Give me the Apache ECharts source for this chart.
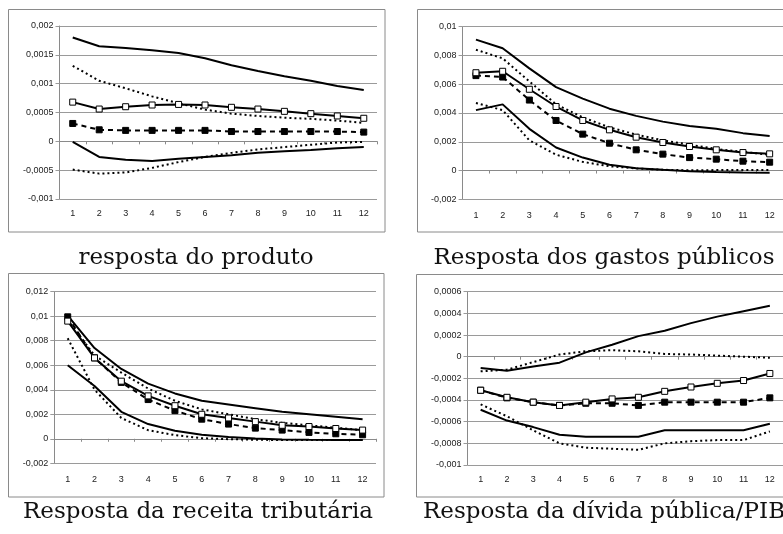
<!DOCTYPE html>
<html><head><meta charset="utf-8">
<script src="https://cdn.jsdelivr.net/npm/echarts@6/dist/echarts.min.js"></script>
<style>html,body{margin:0;padding:0;background:#fff}#c{width:783px;height:534px}</style>
</head><body><div id="c"></div><script>
const categories = ['1','2','3','4','5','6','7','8','9','10','11','12'];

// Panel 1: resposta do produto
const p1Title = 'resposta do produto';
const p1Axis = [-0.001, 0.002, 0.0005];
const p1Upper = [0.0018, 0.00165, 0.00162, 0.00158, 0.00153, 0.00144, 0.00132, 0.00122, 0.00113, 0.00105, 0.00096, 0.00089];
const p1DotUpper = [0.00131, 0.00105, 0.00092, 0.00078, 0.00066, 0.00055, 0.00048, 0.00044, 0.00041, 0.00039, 0.00036, 0.00032];
const p1Point = [0.00068, 0.00056, 0.0006, 0.00063, 0.00064, 0.00063, 0.00059, 0.00056, 0.00052, 0.00048, 0.00044, 0.0004];
const p1Mean = [0.00031, 0.0002, 0.00019, 0.00019, 0.00019, 0.00019, 0.00017, 0.00017, 0.00017, 0.00017, 0.00017, 0.00016];
const p1Lower = [-0.00001, -0.00027, -0.00032, -0.00034, -0.0003, -0.00027, -0.00024, -0.0002, -0.00017, -0.00015, -0.00012, -0.0001];
const p1DotLower = [-0.00049, -0.00056, -0.00054, -0.00046, -0.00036, -0.00027, -0.0002, -0.00014, -0.0001, -0.00006, -0.00002, -0.00001];

// Panel 2: Resposta dos gastos públicos
const p2Title = 'Resposta dos gastos públicos';
const p2Axis = [-0.002, 0.01, 0.002];
const p2Upper = [0.0091, 0.0085, 0.0071, 0.0058, 0.005, 0.0043, 0.0038, 0.0034, 0.0031, 0.0029, 0.0026, 0.0024];
const p2DotUpper = [0.0084, 0.0078, 0.0062, 0.0046, 0.0037, 0.0030, 0.0025, 0.0021, 0.0018, 0.0015, 0.0013, 0.0011];
const p2Point = [0.0068, 0.0069, 0.00565, 0.00445, 0.00348, 0.00283, 0.00232, 0.00195, 0.00167, 0.00144, 0.00125, 0.00116];
const p2Mean = [0.0066, 0.0065, 0.0049, 0.00348, 0.00253, 0.0019, 0.00144, 0.00114, 0.0009, 0.00079, 0.00065, 0.00058];
const p2Lower = [0.0042, 0.0046, 0.0029, 0.0016, 0.0009, 0.0004, 0.00016, 0.00005, -0.00005, -0.0001, -0.00014, -0.00015];
const p2DotLower = [0.0047, 0.0042, 0.0021, 0.0011, 0.0006, 0.0003, 0.00015, 0.00005, 0.00002, 0.00003, 0.00003, 0.00003];

// Panel 3: Resposta da receita tributária
const p3Title = 'Resposta da receita tributária';
const p3Axis = [-0.002, 0.012, 0.002];
const p3Upper = [0.01005, 0.0074, 0.0057, 0.0045, 0.0037, 0.0031, 0.0028, 0.0025, 0.0022, 0.002, 0.0018, 0.0016];
const p3DotUpper = [0.0097, 0.0068, 0.0054, 0.0041, 0.0031, 0.0024, 0.002, 0.0016, 0.0013, 0.0011, 0.0009, 0.0007];
const p3Point = [0.0096, 0.0066, 0.0047, 0.0035, 0.0027, 0.002, 0.0017, 0.0014, 0.0011, 0.001, 0.00084, 0.00071];
const p3Mean = [0.00995, 0.0066, 0.0046, 0.0032, 0.0023, 0.0016, 0.0012, 0.00087, 0.00071, 0.00052, 0.00041, 0.00033];
const p3Lower = [0.006, 0.0043, 0.0022, 0.0012, 0.00065, 0.00033, 0.00014, 0.00003, -0.00005, -0.00008, -0.0001, -0.0001];
const p3DotLower = [0.0082, 0.004, 0.0017, 0.0007, 0.0003, 0.00005, -0.00003, -0.00008, -0.0001, -0.0001, -0.0001, -0.0001];

// Panel 4: Resposta da dívida pública/PIB
const p4Title = 'Resposta da dívida pública/PIB';
const p4Axis = [-0.001, 0.0006, 0.0002];
const p4Upper = [-0.000105, -0.00013, -0.00009, -0.000055, 0.00004, 0.00011, 0.00019, 0.00024, 0.00031, 0.00037, 0.00042, 0.00047];
const p4DotUpper = [-0.000135, -0.00012, -0.00005, 0.00002, 0.00005, 0.00006, 0.00005, 0.000025, 0.00002, 0.00001, 0, -0.00001];
const p4Point = [-0.00031, -0.000375, -0.00042, -0.00045, -0.00042, -0.00039, -0.000375, -0.00032, -0.00028, -0.000246, -0.00022, -0.000155];
const p4Mean = [-0.00031, -0.00038, -0.00042, -0.00045, -0.00043, -0.00043, -0.00045, -0.00042, -0.00042, -0.00042, -0.00042, -0.00038];
const p4Lower = [-0.00049, -0.00059, -0.00065, -0.00072, -0.00074, -0.00074, -0.00074, -0.00068, -0.00068, -0.00068, -0.00068, -0.00062];
const p4DotLower = [-0.00044, -0.00055, -0.00068, -0.0008, -0.00084, -0.00085, -0.00086, -0.0008, -0.00078, -0.00077, -0.00077, -0.00069];

const panels = [
  {title: p1Title, axis: p1Axis, upper: p1Upper, dotUpper: p1DotUpper, point: p1Point, mean: p1Mean, lower: p1Lower, dotLower: p1DotLower},
  {title: p2Title, axis: p2Axis, upper: p2Upper, dotUpper: p2DotUpper, point: p2Point, mean: p2Mean, lower: p2Lower, dotLower: p2DotLower},
  {title: p3Title, axis: p3Axis, upper: p3Upper, dotUpper: p3DotUpper, point: p3Point, mean: p3Mean, lower: p3Lower, dotLower: p3DotLower},
  {title: p4Title, axis: p4Axis, upper: p4Upper, dotUpper: p4DotUpper, point: p4Point, mean: p4Mean, lower: p4Lower, dotLower: p4DotLower}
];

// layout (pixels)
const layout = [
  {grid: {left: 59.5, top: 26, width: 317.5, height: 173}, box: [8.5, 9.5, 376.5, 222.5], cap: [196, 258], xm: 10},
  {grid: {left: 462.6, top: 26.7, width: 321.4, height: 172.6}, box: [417.5, 9.5, 420, 222.5], cap: [604, 258], xm: 12},
  {grid: {left: 54.3, top: 291.7, width: 321.7, height: 171.6}, box: [8.5, 273.5, 375.5, 223.5], cap: [198, 512], xm: 12},
  {grid: {left: 467.5, top: 291.7, width: 316.5, height: 173.3}, box: [416.5, 274.5, 420, 222.5], cap: [604, 512], xm: 10}
];

const labelFont = 'Liberation Sans';
function fmt(v) {
  const s = String(Number(v.toPrecision(8)));
  return s.replace('.', ',');
}

const grids = [], xAxes = [], yAxes = [], series = [], graphics = [];
panels.forEach((p, i) => {
  const L = layout[i];
  grids.push(Object.assign({containLabel: false}, L.grid));
  xAxes.push({
    gridIndex: i, type: 'category', data: categories, boundaryGap: true, position: 'bottom',
    axisLine: {show: false, onZero: false}, axisTick: {show: false}, splitLine: {show: false},
    axisLabel: {margin: L.xm, fontFamily: labelFont, fontSize: 9, color: '#222', interval: 0}
  });
  xAxes.push({
    gridIndex: i, type: 'category', data: categories, boundaryGap: true, position: 'bottom',
    axisLine: {show: true, onZero: true, lineStyle: {color: '#8a8a8a', width: 1}},
    axisTick: {show: true, length: 3, inside: false, interval: 0, lineStyle: {color: '#8a8a8a'}},
    axisLabel: {show: false}, splitLine: {show: false}
  });
  yAxes.push({
    gridIndex: i, type: 'value', min: p.axis[0], max: p.axis[1], interval: p.axis[2],
    axisLine: {show: true, onZero: false, lineStyle: {color: '#8a8a8a', width: 1}},
    axisTick: {show: true, length: 4, lineStyle: {color: '#9a9a9a'}},
    splitLine: {show: true, lineStyle: {color: '#9a9a9a', width: 1}},
    axisLabel: {margin: 6, fontFamily: labelFont, fontSize: 9, color: '#222', formatter: fmt}
  });
  const xi = i * 2, yi = i;
  const base = {type: 'line', xAxisIndex: xi, yAxisIndex: yi, animation: false, silent: true, z: 3};
  series.push(Object.assign({}, base, {data: p.upper, symbol: 'none', lineStyle: {color: '#000', width: 2}}));
  series.push(Object.assign({}, base, {data: p.lower, symbol: 'none', lineStyle: {color: '#000', width: 2}}));
  series.push(Object.assign({}, base, {data: p.dotUpper, symbol: 'none', lineStyle: {color: '#000', width: 2, type: [2, 3]}}));
  series.push(Object.assign({}, base, {data: p.dotLower, symbol: 'none', lineStyle: {color: '#000', width: 2, type: [2, 3]}}));
  series.push(Object.assign({}, base, {data: p.mean, symbol: 'rect', symbolSize: 6, showAllSymbol: true,
    itemStyle: {color: '#000', borderColor: '#000', borderWidth: 1}, lineStyle: {color: '#000', width: 2, type: [5, 4]}}));
  series.push(Object.assign({}, base, {data: p.point, symbol: 'rect', symbolSize: 6, showAllSymbol: true,
    itemStyle: {color: '#fff', borderColor: '#000', borderWidth: 1}, lineStyle: {color: '#000', width: 2}}));
  graphics.push({type: 'rect', z: 0, silent: true, shape: {x: L.box[0], y: L.box[1], width: L.box[2], height: L.box[3]},
    style: {fill: 'none', stroke: '#8a8a8a', lineWidth: 1}});
  graphics.push({type: 'text', z: 10, silent: true, x: L.cap[0], y: L.cap[1],
    style: {text: p.title, font: '23px "DejaVu Serif"', fill: '#111', textAlign: 'center', textVerticalAlign: 'middle', align: 'center', verticalAlign: 'middle'}});
});

const chart = echarts.init(document.getElementById('c'), null, {renderer: 'canvas'});
chart.setOption({
  animation: false,
  backgroundColor: '#fff',
  grid: grids, xAxis: xAxes, yAxis: yAxes, series: series, graphic: graphics
});
</script></body></html>
